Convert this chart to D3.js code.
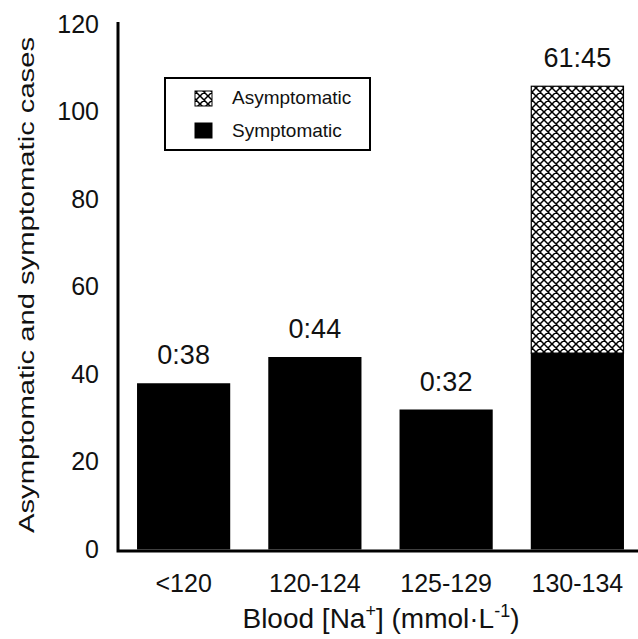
<!DOCTYPE html>
<html>
<head>
<meta charset="utf-8">
<script src="https://cdn.jsdelivr.net/npm/d3@7"></script>
<style>
  body { margin: 0; background: #fff; }
  text { font-family: "Liberation Sans", Arial, sans-serif; fill: #111; }
</style>
</head>
<body>
<svg id="chart" width="638" height="639"></svg>
<script>
// data
const categories = ["<120", "120-124", "125-129", "130-134"];
const symptomatic = [38, 44, 32, 45];
const asymptomatic = [0, 0, 0, 61];
const yTicks = [0, 20, 40, 60, 80, 100, 120];

const svg = d3.select("#chart");

const x = d3.scaleBand().domain(categories)
  .range([118, 643]).paddingInner(0.29).paddingOuter(0.145);
const y = d3.scaleLinear().domain([0, 120]).range([549.5, 24.5]);

// crosshatch
const defs = svg.append("defs");
const pat = defs.append("pattern").attr("id", "hatch")
  .attr("patternUnits", "userSpaceOnUse").attr("width", 8).attr("height", 8);
pat.append("rect").attr("width", 8).attr("height", 8).attr("fill", "#fff");
pat.append("path").attr("d", "M0,0L8,8M8,0L0,8M-1,7L1,9M7,-1L9,1M-1,1L1,-1M7,9L9,7")
  .attr("stroke", "#000").attr("stroke-width", 1.5);

const stacked = categories.map((c, i) => ({
  cat: c, s: symptomatic[i], a: asymptomatic[i]
}));

// symptomatic bars
svg.append("g").selectAll("rect").data(stacked).join("rect")
  .attr("x", d => x(d.cat))
  .attr("width", x.bandwidth())
  .attr("y", d => y(d.s))
  .attr("height", d => y(0) - y(d.s))
  .attr("fill", "#000");

// asymptomatic on top
svg.append("g").selectAll("rect").data(stacked.filter(d => d.a > 0)).join("rect")
  .attr("x", d => x(d.cat) + 0.5)
  .attr("width", x.bandwidth() - 1)
  .attr("y", d => y(d.s + d.a) + 0.5)
  .attr("height", d => y(d.s) - y(d.s + d.a))
  .attr("fill", "url(#hatch)")
  .attr("stroke", "#000").attr("stroke-width", 1.2);

// ratio labels
svg.append("g").selectAll("text").data(stacked).join("text")
  .attr("x", d => x(d.cat) + x.bandwidth() / 2)
  .attr("y", d => y(d.s + d.a) - 19)
  .attr("text-anchor", "middle")
  .attr("font-size", 27)
  .text(d => d.a + ":" + d.s);

// axes
const yAxis = d3.axisLeft(y).tickValues(yTicks).tickSize(0).tickPadding(19);
const gy = svg.append("g").attr("transform", "translate(118,0)").call(yAxis);
gy.select(".domain").remove();
gy.selectAll("text").attr("font-size", 25).attr("font-family", "Liberation Sans, Arial, sans-serif")
  .attr("fill", "#111").attr("dy", "0.3em");

const xAxis = d3.axisBottom(x).tickSize(0).tickPadding(24);
const gx = svg.append("g").attr("transform", "translate(0,550)").call(xAxis);
gx.select(".domain").remove();
gx.selectAll("text").attr("font-size", 25).attr("font-family", "Liberation Sans, Arial, sans-serif")
  .attr("fill", "#111");

svg.append("path").attr("d", "M118,22V551H638")
  .attr("fill", "none").attr("stroke", "#000").attr("stroke-width", 3);

// axis titles
svg.append("text")
  .attr("transform", "translate(34,285) rotate(-90)")
  .attr("text-anchor", "middle").attr("font-size", 22)
  .attr("textLength", 496).attr("lengthAdjust", "spacingAndGlyphs")
  .text("Asymptomatic and symptomatic cases");

const xt = svg.append("text")
  .attr("x", 381).attr("y", 628)
  .attr("text-anchor", "middle").attr("font-size", 28);
xt.append("tspan").text("Blood [Na");
xt.append("tspan").attr("dy", -11).attr("font-size", 18).text("+");
xt.append("tspan").attr("dy", 11).text("] (mmol\u00B7L");
xt.append("tspan").attr("dy", -11).attr("font-size", 18).text("-1");
xt.append("tspan").attr("dy", 11).text(")");

// legend
const legend = svg.append("g");
legend.append("rect").attr("x", 165).attr("y", 78).attr("width", 205).attr("height", 72)
  .attr("fill", "#fff").attr("stroke", "#000").attr("stroke-width", 2);
const legItems = [
  { label: "Asymptomatic", fill: "url(#hatch)" },
  { label: "Symptomatic", fill: "#000" }
];
legItems.forEach((it, i) => {
  legend.append("rect").attr("x", 195).attr("y", 91 + i * 32)
    .attr("width", 17).attr("height", 15)
    .attr("fill", it.fill).attr("stroke", "#000").attr("stroke-width", 1);
  legend.append("text").attr("x", 232).attr("y", 104 + i * 33)
    .attr("font-size", 19).text(it.label);
});
</script>
</body>
</html>
